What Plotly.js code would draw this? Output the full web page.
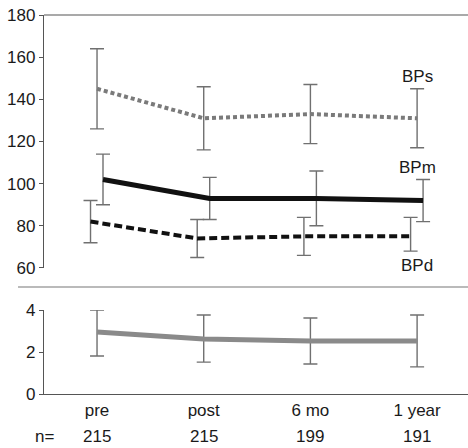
<!DOCTYPE html>
<html>
<head>
<meta charset="utf-8">
<script src="https://cdn.plot.ly/plotly-3.0.1.min.js"></script>
<style>html,body{margin:0;padding:0;background:#fff;}#chart{width:468px;height:448px;}</style>
</head>
<body>
<div id="chart"></div>
<script>
// categories and sample sizes
const categories = ["pre", "post", "6 mo", "1 year"];
const nCounts = ["215", "215", "199", "191"];

// blood pressure series (mmHg): mean, upper bar end, lower bar end
const bpsMean = [145, 131, 133, 131];
const bpsHigh = [164, 146, 147, 145];
const bpsLow  = [126, 116, 119, 117];

const bpmMean = [102, 93, 93, 92];
const bpmHigh = [114, 103, 106, 102];
const bpmLow  = [90, 83, 80, 82];

const bpdMean = [82, 74, 75, 75];
const bpdHigh = [92, 83, 84, 84];
const bpdLow  = [72, 65, 66, 68];

// number of drugs
const drugMean = [2.95, 2.62, 2.53, 2.53];
const drugHigh = [4.0, 3.76, 3.62, 3.76];
const drugLow  = [1.81, 1.52, 1.43, 1.29];

const idx = categories.map((c, i) => i + 1);
const shift = (d) => idx.map(v => v + d);
const up = (hi, m) => hi.map((v, i) => v - m[i]);
const dn = (lo, m) => lo.map((v, i) => m[i] - lo[i]);

const ebColor = "#707070";
function errY(hi, lo, m) {
  return {type: "data", symmetric: false, array: up(hi, m), arrayminus: dn(lo, m),
          color: ebColor, thickness: 1.4, width: 7};
}

const traces = [
  {x: shift(0), y: bpsMean, xaxis: "x", yaxis: "y", mode: "lines",
   line: {color: "#7a7a7a", width: 4, dash: "4px,3px"}, error_y: errY(bpsHigh, bpsLow, bpsMean),
   cliponaxis: false, hoverinfo: "skip"},
  {x: shift(0.056), y: bpmMean, xaxis: "x", yaxis: "y", mode: "lines",
   line: {color: "#111", width: 5}, error_y: errY(bpmHigh, bpmLow, bpmMean),
   cliponaxis: false, hoverinfo: "skip"},
  {x: shift(-0.061), y: bpdMean, xaxis: "x", yaxis: "y", mode: "lines",
   line: {color: "#111", width: 4, dash: "8px,4px"}, error_y: errY(bpdHigh, bpdLow, bpdMean),
   cliponaxis: false, hoverinfo: "skip"},
  {x: shift(0), y: drugMean, xaxis: "x", yaxis: "y2", mode: "lines",
   line: {color: "#8a8a8a", width: 5}, error_y: errY(drugHigh, drugLow, drugMean),
   cliponaxis: false, hoverinfo: "skip"}
];

const axisColor = "#555";
const font = {family: "Liberation Sans, Arial, Helvetica, sans-serif", size: 17, color: "#1a1a1a"};

const ann = (o) => Object.assign({showarrow: false, xanchor: "center", yanchor: "middle"}, o);
const annotations = [
  ann({xref: "x", yref: "y", x: 4, y: 151, text: "BPs"}),
  ann({xref: "x", yref: "y", x: 4, y: 107.5, text: "BPm"}),
  ann({xref: "x", yref: "y", x: 4, y: 61, text: "BPd"}),
  ann({xref: "x", yref: "y2", x: 3.79, y: 4.33, text: "number of drugs"}),
  ann({xref: "paper", yref: "paper", x: 0, y: -0.111, text: "n="})
].concat(nCounts.map((n, i) => ann({xref: "x", yref: "paper", x: idx[i], y: -0.111, text: n})));

const layout = {
  width: 468, height: 448,
  margin: {l: 44, r: 0, t: 15, b: 54},
  paper_bgcolor: "#fff", plot_bgcolor: "rgba(0,0,0,0)",
  font: font,
  showlegend: false,
  xaxis: {anchor: "y2", range: [0.503, 4.477], tickvals: idx, ticktext: categories,
          showline: true, linecolor: axisColor, linewidth: 1.2, ticks: "", showgrid: false,
          zeroline: false, tickfont: font},
  yaxis: {domain: [0.3325, 1], range: [60, 180], tickvals: [60, 80, 100, 120, 140, 160, 180],
          showline: true, linecolor: axisColor, linewidth: 1.2, ticks: "outside", ticklen: 4,
          tickcolor: axisColor, showgrid: false, zeroline: false, anchor: "x", tickfont: font},
  yaxis2: {domain: [0, 0.2216], range: [0, 4], tickvals: [0, 2, 4],
           showline: true, linecolor: axisColor, linewidth: 1.2, ticks: "outside", ticklen: 4,
           tickcolor: axisColor, showgrid: false, zeroline: false, anchor: "x", tickfont: font},
  shapes: [
    {type: "line", xref: "paper", yref: "paper", x0: 0, x1: 1, y0: 1, y1: 1,
     line: {color: axisColor, width: 1.2}},
    {type: "line", xref: "paper", yref: "paper", x0: -0.0613, x1: 1, y0: 0.2823, y1: 0.2823,
     line: {color: "#777", width: 1.2}}
  ],
  annotations: annotations
};

Plotly.newPlot("chart", traces, layout, {staticPlot: true, displayModeBar: false});
</script>
</body>
</html>
